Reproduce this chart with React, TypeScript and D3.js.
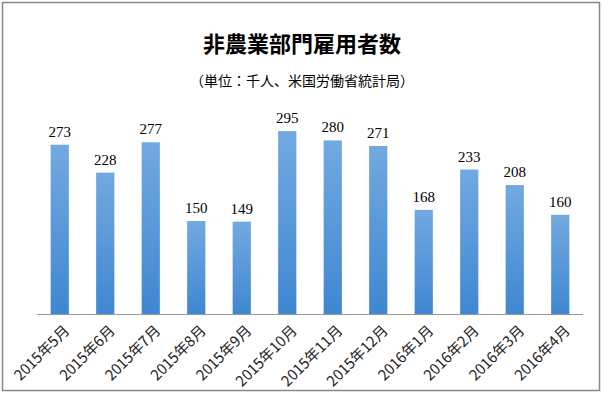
import React from "react";
import * as d3 from "d3";

const categories = ["2015年5月", "2015年6月", "2015年7月", "2015年8月", "2015年9月", "2015年10月", "2015年11月", "2015年12月", "2016年1月", "2016年2月", "2016年3月", "2016年4月"];
const values = [273, 228, 277, 150, 149, 295, 280, 271, 168, 233, 208, 160];
const title = "非農業部門雇用者数";
const subtitle = "（単位：千人、米国労働省統計局）";

export default function App() {
  const W = 603, H = 395;
  const x = d3.scaleBand().domain(categories).range([37, 583]).paddingInner(0.6).paddingOuter(0.3);
  const y = d3.scaleLinear().domain([0, 350]).range([314, 97]);
  return (
    <svg width={W} height={H} style={{ position: "absolute", left: 0, top: 0 }}>
      <defs>
        <linearGradient id="bg" x1="0" y1="0" x2="0" y2="1">
          <stop offset="0" stopColor="#72a9e0" />
          <stop offset="1" stopColor="#3f87d2" />
        </linearGradient>
      </defs>
      <rect x={0} y={0} width={W} height={H} fill="#fff" />
      <rect x={2.5} y={2.5} width={597} height={388} fill="none" stroke="#888" strokeWidth={1.5} />
      <text x={302} y={52} textAnchor="middle" fontFamily="'Noto Sans CJK JP'" fontWeight="bold" fontSize={22}>{title}</text>
      <text x={302} y={86} textAnchor="middle" fontFamily="'Noto Sans CJK JP'" fontSize={14}>{subtitle}</text>
      {categories.map((c, i) => (
        <g key={c}>
          <rect x={x(c)!} y={y(values[i])} width={x.bandwidth()} height={y(0) - y(values[i])} fill="url(#bg)" />
          <text x={x(c)! + x.bandwidth() / 2} y={y(values[i]) - 8} textAnchor="middle" fontFamily="'Liberation Serif'" fontSize={15}>{values[i]}</text>
          <text transform={`translate(${x(c)! + x.bandwidth() / 2 + 1},${y(0) + 8}) rotate(-45)`} textAnchor="end" dominantBaseline="hanging" fontFamily="'Noto Sans CJK JP'" fontSize={14.8} fill="#222">{c}</text>
        </g>
      ))}
      <line x1={37} x2={583} y1={314.5} y2={314.5} stroke="#999" strokeWidth={1} />
    </svg>
  );
}
